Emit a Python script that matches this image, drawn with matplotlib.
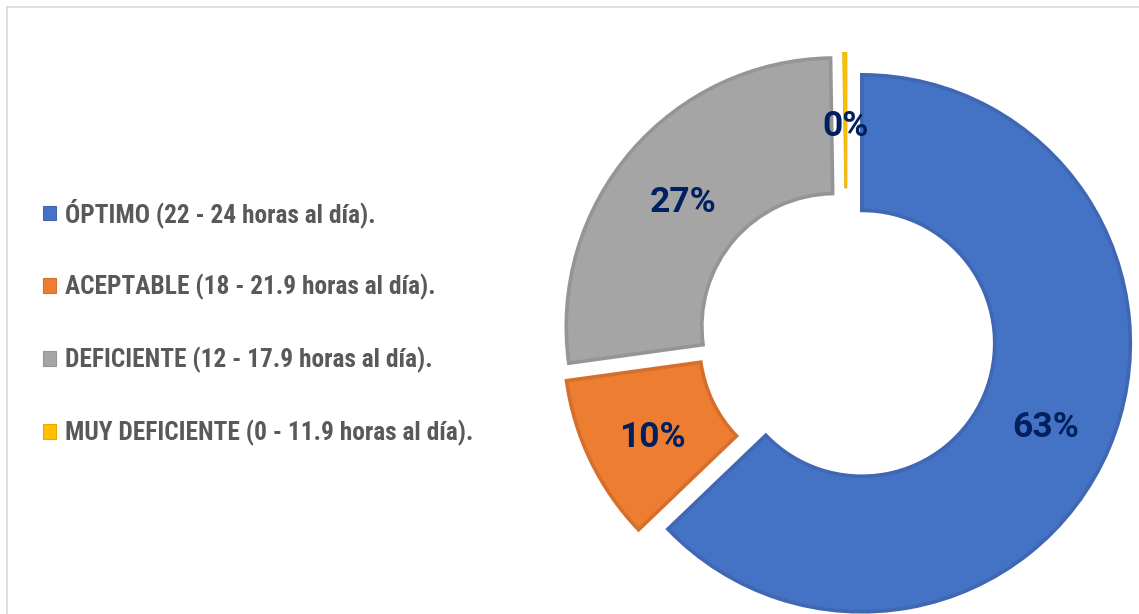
import matplotlib
matplotlib.use("Agg")
import matplotlib.pyplot as plt
from matplotlib.patches import Patch
from matplotlib.lines import Line2D

categories = [
    "ÓPTIMO (22 - 24 horas al día).",
    "ACEPTABLE (18 - 21.9 horas al día).",
    "DEFICIENTE (12 - 17.9 horas al día).",
    "MUY DEFICIENTE (0 - 11.9 horas al día).",
]
values = [63, 10, 27, 0.25]
fill_colors = ["#4472C4", "#ED7D31", "#A5A5A5", "#FFC000"]
edge_colors = ["#3F67B3", "#D66F2B", "#959595", "#E6AC00"]

plt.rcParams['font.family'] = ['Roboto Condensed', 'DejaVu Sans']

W, H = 1139, 614
fig = plt.figure(figsize=(W / 100, H / 100), dpi=100)
ax = fig.add_axes([0, 0, 1, 1])

wedges, texts, autotexts = ax.pie(
    values,
    radius=1.0,
    center=(0, 0),
    startangle=90,
    counterclock=False,
    explode=[0.06] * len(values),
    colors=fill_colors,
    wedgeprops=dict(width=0.505, linewidth=2.6),
    autopct=lambda p: f"{p:.0f}%",
    pctdistance=0.745,
    textprops=dict(fontsize=25.5, fontweight='bold', color='#002060',
                   family=['Roboto', 'DejaVu Sans']),
)
for w, ec in zip(wedges, edge_colors):
    w.set_edgecolor(ec)
wedges[3].set_linewidth(0.6)
for t in autotexts:
    x, y = t.get_position()
    t.set_position((x, y - 0.022))

# map data units onto the pixel layout of the reference
scale = 268.5
cx, cy = 847, 337
ax.set_xlim(-cx / scale, (W - cx) / scale)
ax.set_ylim(-(H - cy) / scale, cy / scale)
ax.set_aspect('auto')
ax.axis('off')

handles = [Patch(facecolor=fc, edgecolor=ec, linewidth=0.8)
           for fc, ec in zip(fill_colors, edge_colors)]
leg = fig.legend(
    handles, categories,
    loc='center left',
    bbox_to_anchor=(43 / W, 1 - 322 / H),
    frameon=False,
    prop=dict(size=18.3, weight='bold'),
    labelcolor='#595959',
    handlelength=0.51, handleheight=0.51,
    handletextpad=0.34,
    labelspacing=1.83,
    borderaxespad=0,
    borderpad=0,
)

# light chart-area border (top and left visible)
bx = 6.5 / W
by = 1 - 6.5 / H
fig.add_artist(Line2D([bx, bx], [0, by], transform=fig.transFigure,
                      color='#D9D9D9', linewidth=1.2))
fig.add_artist(Line2D([bx, 1], [by, by], transform=fig.transFigure,
                      color='#D9D9D9', linewidth=1.2))

fig.savefig("out.png", dpi=100, facecolor='white')
